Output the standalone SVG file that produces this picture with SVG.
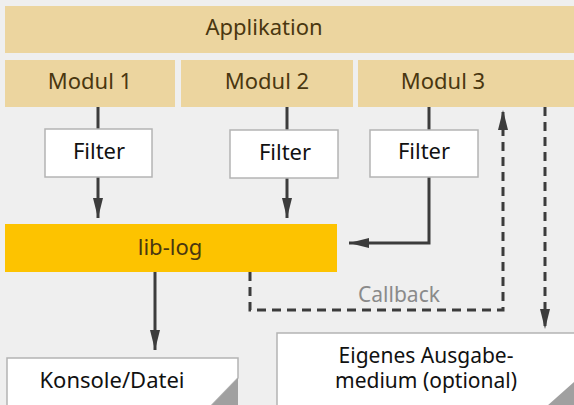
<svg xmlns="http://www.w3.org/2000/svg" width="574" height="405" viewBox="0 0 574 405">
<defs>
<style>
text{font-family:"Noto Sans","Open Sans",sans-serif;font-size:22px;text-anchor:middle}
.mod{fill:#ecd59f}
.modt{fill:#4a3710}
.flt{fill:#ffffff;stroke:#b4b4b4;stroke-width:1.5}
.fltt{fill:#111}
.two{font-size:21px}
.ln{fill:none;stroke:#3c3c3c;stroke-width:3}
.dash{fill:none;stroke:#3c3c3c;stroke-width:3;stroke-dasharray:9,6}
.out{fill:#ffffff;stroke:#b4b4b4;stroke-width:1.5}
.fold{fill:#a0a0a0}
</style>
<marker id="ah" viewBox="0 0 20 10" refX="20" refY="5" markerWidth="20" markerHeight="10" markerUnits="userSpaceOnUse" orient="auto">
<path d="M0,0 L20,5 L0,10 Z" fill="#3c3c3c"/>
</marker>
</defs>
<rect x="0" y="0" width="574" height="405" fill="#efefef"/>
<g id="applikation"><rect class="mod" x="5" y="6" width="575" height="47"/><text class="modt" x="264" y="35">Applikation</text></g>
<g id="modul1"><rect class="mod" x="5" y="60" width="170" height="47"/><text class="modt" x="90" y="89">Modul 1</text></g>
<g id="modul2"><rect class="mod" x="181" y="60" width="172" height="47"/><text class="modt" x="267" y="89">Modul 2</text></g>
<g id="modul3"><rect class="mod" x="358" y="60" width="220" height="47"/><text class="modt" x="443" y="89">Modul 3</text></g>
<g id="connectors">
<line class="ln" x1="98" y1="107" x2="98" y2="129"/>
<line class="ln" x1="287" y1="107" x2="287" y2="130"/>
<line class="ln" x1="429" y1="107" x2="429" y2="130"/>
<line class="ln" x1="98" y1="177" x2="98" y2="218" marker-end="url(#ah)"/>
<line class="ln" x1="287" y1="178" x2="287" y2="218" marker-end="url(#ah)"/>
<polyline class="ln" points="429,177 429,243 349,243" marker-end="url(#ah)"/>
<line class="ln" x1="155" y1="272" x2="155" y2="350" marker-end="url(#ah)"/>
<polyline class="dash" points="250,272 250,310 503,310 503,110" marker-end="url(#ah)"/>
<line class="dash" x1="545" y1="107" x2="545" y2="329" marker-end="url(#ah)"/>
<text x="399" y="302" fill="#8a8a8a" style="font-size:21px">Callback</text>
</g>
<g id="filter1"><rect class="flt" x="45" y="129" width="107" height="48"/><text class="fltt" x="99" y="159">Filter</text></g>
<g id="filter2"><rect class="flt" x="230" y="130" width="108" height="48"/><text class="fltt" x="285" y="160">Filter</text></g>
<g id="filter3"><rect class="flt" x="370" y="130" width="108" height="47"/><text class="fltt" x="424" y="159">Filter</text></g>
<g id="liblog"><rect x="5" y="224" width="332" height="48" fill="#fdc300"/><text class="modt" x="170" y="255">lib-log</text></g>
<g id="konsole"><path class="out" d="M7,358 H238 V378 L211,406 H7 Z"/><path class="fold" d="M211,406 L238,378 V406 Z"/><text class="fltt" x="112" y="388">Konsole/Datei</text></g>
<g id="eigenes"><path class="out" d="M277,333 H578 V382 L555,406 H277 Z"/><path class="fold" d="M547,406 L574,382 V406 Z"/><text class="fltt two" x="426" y="363">Eigenes Ausgabe-<tspan x="426" y="388">medium (optional)</tspan></text></g>
</svg>
